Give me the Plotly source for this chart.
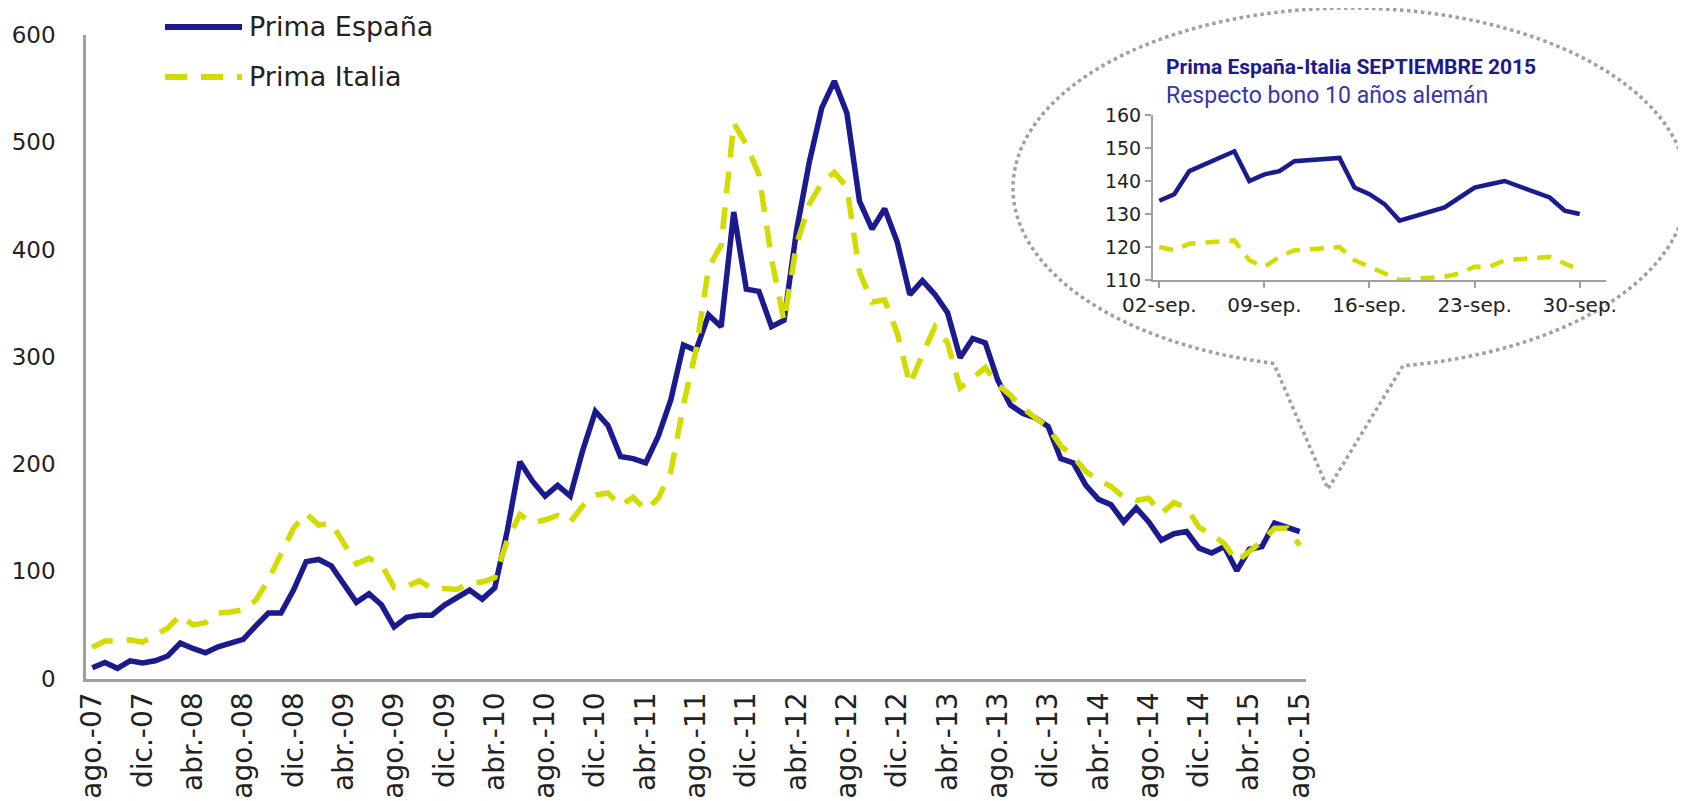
import numpy as np
import plotly.graph_objects as go

# ---- main series: monthly spread vs German bund (bp), ago.-07 .. ago.-15
MESES_ABR = ["ene.", "feb.", "mar.", "abr.", "may.", "jun.",
             "jul.", "ago.", "sep.", "oct.", "nov.", "dic."]
meses = [f"{MESES_ABR[(7 + i) % 12]}-{7 + (7 + i) // 12:02d}" for i in range(97)]

prima_espana = [
    10, 15, 9.5, 16.5, 14.5, 16.5, 21, 33, 28, 24, 29.5, 33,
    36.5, 49, 61, 61, 82.5, 109, 111, 105, 88, 71, 79, 68.5,
    48, 57, 59, 59, 68.5, 75, 82.5, 74, 84.5, 138, 202, 184,
    170, 180, 170, 213, 249, 236, 207, 205, 201, 226, 260, 311,
    306, 339, 328, 435, 363, 361, 328, 334, 418, 481, 532, 557,
    527, 445, 419, 438, 407, 358, 371, 358, 341, 299, 317, 313,
    278, 255, 247, 243, 235, 205, 201, 180, 167, 162, 146, 159,
    146, 129, 135, 137, 121.5, 117, 123, 100.5, 120.5, 123, 145, 141,
    137,
]
prima_italia = [
    29, 35, 35, 36, 34, 40, 47, 59, 50, 52, 61, 62,
    64, 73, 92, 116, 140, 154, 143, 145, 126, 107, 112, 106,
    85, 86, 91, 84, 84, 83, 89, 90, 94, 129, 153, 145,
    148, 152, 146, 161, 171, 173, 161, 169, 157, 168, 193, 255,
    306, 383, 404, 518, 498, 470, 392, 333, 405, 442, 462, 472,
    458, 379, 351, 353, 322, 274, 302, 328, 313, 271, 280, 290,
    274, 264, 252, 243, 234, 217, 207, 193, 185, 179, 169, 166,
    168, 154, 164, 159, 141, 134, 126, 109, 118, 128, 140, 140,
    124,
]
y_ticks = [0, 100, 200, 300, 400, 500, 600]

# ---- inset: daily, September 2015
dias_sep = ["2015-09-02", "2015-09-03", "2015-09-04", "2015-09-07", "2015-09-08",
            "2015-09-09", "2015-09-10", "2015-09-11", "2015-09-14", "2015-09-15",
            "2015-09-16", "2015-09-17", "2015-09-18", "2015-09-21", "2015-09-22",
            "2015-09-23", "2015-09-24", "2015-09-25", "2015-09-28", "2015-09-29",
            "2015-09-30"]
sep_espana = [134, 136, 143, 149, 140, 142, 143, 146, 147, 138, 136, 133, 128,
              132, 135, 138, 139, 140, 135, 131, 130]
sep_italia = [120, 119, 121, 122, 116, 114, 117, 119, 120, 116, 114, 112, 110,
              111, 112, 114, 114, 116, 117, 115, 113]
sep_ticks = ["2015-09-02", "2015-09-09", "2015-09-16", "2015-09-23", "2015-09-30"]
sep_ticktext = ["02-sep.", "09-sep.", "16-sep.", "23-sep.", "30-sep."]

series_names = ["Prima España", "Prima Italia"]

AZUL = "#1B1B8F"
AMARILLO = "#D2DC00"
GRIS = "#A0A0A0"
W, H = 1686, 801
OFF = 8  # page body margin
FONT = "DejaVu Sans"
DASH_MAIN = "22px,14px"


def px(x, y):
    """page pixel -> paper fraction"""
    return (x - OFF) / W, 1 - (y - OFF) / H


fig = go.Figure()

fig.add_trace(go.Scatter(
    x=meses, y=prima_espana, mode="lines", name=series_names[0],
    line=dict(color=AZUL, width=5.5),
))
fig.add_trace(go.Scatter(
    x=meses, y=prima_italia, mode="lines", name=series_names[1],
    line=dict(color=AMARILLO, width=5.5, dash=DASH_MAIN),
))

# inset traces
fig.add_trace(go.Scatter(
    x=dias_sep, y=sep_espana, mode="lines", xaxis="x2", yaxis="y2",
    line=dict(color=AZUL, width=4.5),
))
fig.add_trace(go.Scatter(
    x=dias_sep, y=sep_italia, mode="lines", xaxis="x2", yaxis="y2",
    line=dict(color=AMARILLO, width=4.5, dash="14px,10px"),
))

# legend drawn by hand so it can sit above the paper's top edge area
for k, (name, col, dash) in enumerate(zip(series_names, [AZUL, AMARILLO],
                                          ["solid", DASH_MAIN])):
    ly = 27 + 50 * k
    x0, y0 = px(165, ly)
    x1, _ = px(242, ly)
    fig.add_shape(type="line", xref="paper", yref="paper", x0=x0, x1=x1, y0=y0, y1=y0,
                  line=dict(color=col, width=6, dash=dash))
    fig.add_annotation(text=name, x=px(247, 0)[0], y=y0, xref="paper", yref="paper",
                       xanchor="left", yanchor="middle", showarrow=False,
                       font=dict(family=FONT, size=27, color="#222222"))

# callout bubble: ellipse + tail, dotted
cx, cy, rx, ry = 1350, 188, 337, 180
tail_l, tail_tip, tail_r = (1274, 364), (1328, 489), (1403, 366)
a_l = np.arctan2((tail_l[1] - cy) / ry, (tail_l[0] - cx) / rx)
a_r = np.arctan2((tail_r[1] - cy) / ry, (tail_r[0] - cx) / rx)
angs = np.linspace(a_l, a_r + 2 * np.pi, 300)
pts = [px(cx + rx * np.cos(a), cy + ry * np.sin(a)) for a in angs]
pts += [px(*tail_tip), px(*tail_l)]
path = "M " + " L ".join(f"{x:.5f},{y:.5f}" for x, y in pts)
fig.add_shape(type="path", path=path, xref="paper", yref="paper",
              line=dict(color=GRIS, width=3.5, dash="dot"), layer="below")

fig.add_annotation(text="<b>Prima España-Italia SEPTIEMBRE 2015</b>",
                   x=px(1164, 0)[0], y=px(0, 67)[1], xref="paper", yref="paper",
                   xanchor="left", yanchor="middle", showarrow=False,
                   font=dict(family="Roboto", size=21, color=AZUL))
fig.add_annotation(text="Respecto bono 10 años alemán",
                   x=px(1164, 0)[0], y=px(0, 95)[1], xref="paper", yref="paper",
                   xanchor="left", yanchor="middle", showarrow=False,
                   font=dict(family="Roboto", size=23, color="#3535B0"))

fig.update_layout(
    width=W, height=H,
    margin=dict(l=0, r=0, t=0, b=0),
    paper_bgcolor="white", plot_bgcolor="rgba(0,0,0,0)",
    font=dict(family=FONT, color="#222222"),
    showlegend=False,
    xaxis=dict(
        domain=[px(86, 0)[0], px(1306, 0)[0]], type="category",
        range=[-0.5, len(meses) - 0.5],
        tickmode="array", tickvals=meses[::4], ticktext=meses[::4],
        tickangle=-90, tickfont=dict(size=28), ticks="",
        showline=True, linecolor=GRIS, linewidth=2.5,
        showgrid=False, zeroline=False, automargin=False, anchor="y",
    ),
    yaxis=dict(
        domain=[px(0, 678.5)[1], px(0, 35)[1]],
        range=[0, 600], tickvals=y_ticks, tickfont=dict(size=23), ticks="",
        ticklabelstandoff=23,
        showline=True, linecolor=GRIS, linewidth=2.5,
        showgrid=False, zeroline=False, automargin=False, anchor="x",
    ),
    xaxis2=dict(
        domain=[px(1153, 0)[0], px(1606, 0)[0]], type="date",
        range=["2015-09-01 14:00", "2015-10-01 18:00"],
        tickvals=sep_ticks, ticktext=sep_ticktext, tickfont=dict(size=20),
        ticks="outside", ticklen=6, tickcolor=GRIS, tickwidth=2,
        showline=True, linecolor=GRIS, linewidth=2,
        showgrid=False, zeroline=False, automargin=False, anchor="y2",
    ),
    yaxis2=dict(
        domain=[px(0, 280)[1], px(0, 115)[1]],
        range=[110, 160], dtick=10, tickfont=dict(size=19),
        ticks="outside", ticklen=6, tickcolor=GRIS, tickwidth=2,
        showline=True, linecolor=GRIS, linewidth=2,
        showgrid=False, zeroline=False, automargin=False, anchor="x2",
    ),
)

fig.write_html("out.html")
